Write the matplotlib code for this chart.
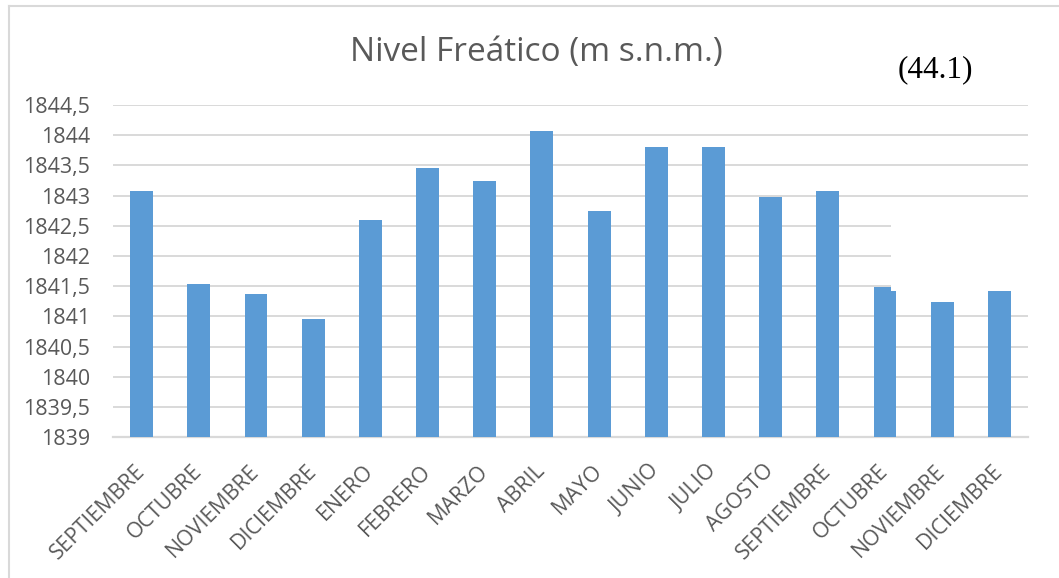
import matplotlib
matplotlib.use("Agg")
import matplotlib.pyplot as plt
from matplotlib.patches import Rectangle
from matplotlib.lines import Line2D
from matplotlib.ticker import FuncFormatter
from matplotlib.transforms import ScaledTranslation

plt.rcParams['font.family'] = ['Open Sans', 'DejaVu Sans']

meses = ["SEPTIEMBRE", "OCTUBRE", "NOVIEMBRE", "DICIEMBRE", "ENERO", "FEBRERO",
         "MARZO", "ABRIL", "MAYO", "JUNIO", "JULIO", "AGOSTO", "SEPTIEMBRE",
         "OCTUBRE", "NOVIEMBRE", "DICIEMBRE"]
nivel = [1843.07, 1841.54, 1841.37, 1840.96, 1842.60, 1843.45, 1843.25, 1844.07,
         1842.75, 1843.80, 1843.80, 1842.97, 1843.07, 1841.49, 1841.24, 1841.42]
y_ticks = [1839, 1839.5, 1840, 1840.5, 1841, 1841.5, 1842, 1842.5, 1843,
           1843.5, 1844, 1844.5]

W, H = 1059, 578
fig = plt.figure(figsize=(W / 100, H / 100), dpi=100)
ax = fig.add_axes([113 / W, 1 - 437.3 / H, (1028 - 113) / W, (437.3 - 105) / H])

x = range(len(meses))
ax.bar(x, [v - y_ticks[0] for v in nivel], bottom=y_ticks[0], width=0.40,
       color="#5B9BD5", zorder=3)

ax.set_xlim(-0.5, len(meses) - 0.5)
ax.set_ylim(y_ticks[0], y_ticks[-1])
ax.set_yticks(y_ticks)
ax.yaxis.set_major_formatter(FuncFormatter(
    lambda v, p: (f"{v:g}").replace(".", ",")))
ax.set_xticks(list(x))
ax.set_xticklabels(meses, rotation=45, ha="right", va="center",
                   rotation_mode="anchor")
shift = ScaledTranslation(5 / 100, 0, fig.dpi_scale_trans)
for lbl in ax.get_xticklabels():
    lbl.set_transform(lbl.get_transform() + shift)

txt = "#595959"
ax.tick_params(axis="y", length=0, pad=16.5, labelsize=15.4, labelcolor=txt)
ax.tick_params(axis="x", length=0, pad=22, labelsize=15.4, labelcolor=txt)
ax.grid(axis="y", color="#D9D9D9", linewidth=1.4, zorder=0)
for s in ("left", "right", "top"):
    ax.spines[s].set_visible(False)
ax.spines["bottom"].set_color("#D9D9D9")
ax.spines["bottom"].set_linewidth(1.6)

fig.text(536 / W, 1 - 52 / H, "Nivel Freático (m s.n.m.)", ha="center",
         va="center", fontsize=24, color=txt)
fig.text(935 / W, 1 - 70 / H, "(44.1)", ha="center", va="center",
         fontsize=22.5, color="black", family=["Liberation Serif"])

# outer chart frame (left and top edges)
fig.add_artist(Line2D([8.5 / W, 8.5 / W], [0, 1 - 6 / H], color="#D9D9D9",
                      linewidth=1.5, transform=fig.transFigure))
fig.add_artist(Line2D([8.5 / W, 1], [1 - 6 / H, 1 - 6 / H], color="#D9D9D9",
                      linewidth=1.5, transform=fig.transFigure))

# blank box overlapping the plot area
fig.add_artist(Rectangle((891 / W, 1 - 291 / H), (W - 891) / W, 90 / H,
                         facecolor="white", edgecolor="none", zorder=10,
                         transform=fig.transFigure))

fig.savefig("out.png", dpi=100, facecolor="white")
